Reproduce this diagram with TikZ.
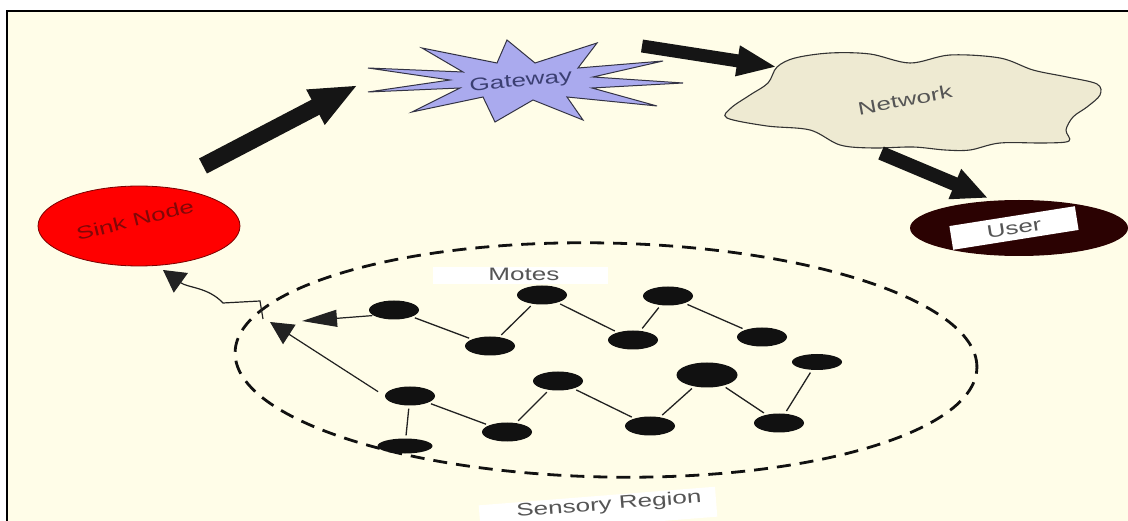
\documentclass[tikz,border=0pt]{standalone}
\usepackage{fontspec}
\setmainfont{Liberation Sans}
\usepackage{graphicx}
\usetikzlibrary{arrows.meta,shapes.geometric}

\definecolor{paper}{HTML}{FFFDE8}
\definecolor{sinkred}{HTML}{FF0000}
\definecolor{sinkedge}{HTML}{7A0000}
\definecolor{sinktext}{HTML}{800808}
\definecolor{starblue}{HTML}{AAAAEE}
\definecolor{stardark}{HTML}{333344}
\definecolor{gwtext}{HTML}{3B3F72}
\definecolor{cloudfill}{HTML}{EEEAD2}
\definecolor{clouddraw}{HTML}{333333}
\definecolor{userdark}{HTML}{2B0202}
\definecolor{labelgray}{HTML}{555555}
\definecolor{moteblack}{HTML}{111111}
\definecolor{linkgray}{HTML}{222222}
\definecolor{arrowblack}{HTML}{151515}

% wide sans lettering used for every label
\newcommand{\widetext}[1]{\scalebox{1.45}[1]{#1}}

\begin{document}
\begin{tikzpicture}[x=1pt,y=-1pt,
  lbl/.style={font=\fontsize{18}{20}\selectfont, text=labelgray, inner sep=0pt},
  mote/.style={ellipse, fill=moteblack, draw=none, minimum width=50pt,
               minimum height=19pt, inner sep=0pt},
  link/.style={draw=linkgray, line width=1.3pt, shorten <=3pt, shorten >=3pt},
  feed/.style={draw=linkgray, fill=linkgray, line width=1.2pt},
  blockarrow/.style={draw=arrowblack, fill=arrowblack},
]
\useasboundingbox (0,0) rectangle (1128,521);
\fill[white] (0,0) rectangle (1128,521);
\begin{scope}
  \clip (0,0) rectangle (1128,521);
  \draw[fill=paper, line width=2.5pt] (7,11) rectangle (1140,540);
\end{scope}

% ---- sink node ----
\node[ellipse, fill=sinkred, draw=sinkedge, line width=0.8pt,
      minimum width=202pt, minimum height=80pt, inner sep=0pt] (sink) at (139,226) {};
\node[lbl, text=sinktext, rotate=14] (sinklbl) at (135,220) {\widetext{Sink Node}};

% ---- gateway star ----
\draw[fill=starblue, draw=stardark, line width=1pt]
  (507,40) -- (535,63) -- (597,43) -- (578,68) -- (663,61) -- (593,77)
  -- (683,83) -- (592,88) -- (657,106) -- (567,97) -- (583,120) -- (533,100)
  -- (495,122) -- (483,97) -- (412,112) -- (460,88) -- (368,92) -- (450,80)
  -- (368,68) -- (463,72) -- (422,48) -- (497,63) -- cycle;
\node[lbl, text=gwtext, rotate=5.5] (gw) at (521,82) {\widetext{Gateway}};

% ---- network cloud ----
\draw[fill=cloudfill, draw=clouddraw, line width=1.1pt]
  plot[smooth cycle, tension=0.55] coordinates {
  (777,67) (795,58) (830,53) (870,54) (910,63) (950,55) (1000,58) (1033,70)
  (1067,77) (1097,84) (1100,95) (1087,107) (1073,117) (1066,130) (1069,141)
  (1045,143) (1000,143) (970,150) (945,150) (913,147) (873,148) (840,145)
  (810,130) (767,126) (727,118) (731,108) (750,95) (768,83)};
\node[lbl, rotate=10.5] (net) at (905,100) {\widetext{Network}};

% ---- user ----
\node[ellipse, fill=userdark, minimum width=218pt, minimum height=56pt,
      inner sep=0pt] (user) at (1019,228) {};
\node[lbl, fill=white, rotate=9, minimum width=127pt, minimum height=24pt]
  (userlbl) at (1014,228) {\widetext{User}};

% ---- block arrows between stages ----
\coordinate (a1s) at (203,166);  \coordinate (a1e) at (358,85);
\coordinate (a2s) at (642,46);   \coordinate (a2e) at (777,67);
\coordinate (a3s) at (881,153);  \coordinate (a3e) at (988,198);
\draw[blockarrow, line width=17pt, -{Triangle[width=36pt,length=48pt]}] (a1s) -- (a1e);
\draw[blockarrow, line width=13pt, -{Triangle[width=28pt,length=40pt]}] (a2s) -- (a2e);
\draw[blockarrow, line width=14pt, -{Triangle[width=30pt,length=36pt]}] (a3s) -- (a3e);

% ---- sensory region ----
\node[ellipse, draw=moteblack, line width=2.8pt, dash pattern=on 14pt off 9pt,
      minimum width=742pt, minimum height=234pt, inner sep=0pt, rotate=-1.2]
  (region) at (606,360) {};

\node[fill=white, minimum width=175pt, minimum height=17pt, inner sep=0pt]
  (motesbox) at (520,276) {};
\node[lbl] (moteslbl) at (524,274) {\widetext{Motes}};

\node[fill=white, rotate=4.5, minimum width=237pt, minimum height=30pt, inner sep=0pt]
  (sensbox) at (598,511) {};
\node[lbl, rotate=4.5] (senslbl) at (609,505) {\widetext{Sensory Region}};

% ---- motes ----
\node[mote] (m1)  at (394,310) {};
\node[mote] (m2)  at (490,346) {};
\node[mote] (m3)  at (542,295) {};
\node[mote] (m4)  at (410,396) {};
\node[mote, minimum width=55pt, minimum height=15pt] (m5) at (405,446) {};
\node[mote] (m6)  at (507,432) {};
\node[mote] (m7)  at (558,381) {};
\node[mote] (m8)  at (668,296) {};
\node[mote] (m9)  at (633,340) {};
\node[mote] (m10) at (762,337) {};
\node[mote, minimum width=61pt, minimum height=25pt] (m11) at (707,375) {};
\node[mote, minimum height=16pt] (m12) at (817,362) {};
\node[mote] (m13) at (650,426) {};
\node[mote] (m14) at (779,423) {};

\draw[link] (m1) -- (m2);
\draw[link] (m2) -- (m3);
\draw[link] (m3) -- (m9);
\draw[link] (m9) -- (m8);
\draw[link] (m8) -- (m10);
\draw[link] (m4) -- (m5);
\draw[link] (m4) -- (m6);
\draw[link] (m6) -- (m7);
\draw[link] (m7) -- (m13);
\draw[link] (m13) -- (m11);
\draw[link] (m11) -- (m14);
\draw[link] (m14) -- (m12);

% ---- data flowing out of the region to the sink ----
\coordinate (t1) at (302,321);
\coordinate (t2) at (270,322);
\coordinate (hub) at (263,319);
\coordinate (tz) at (163,270);
\draw[feed, shorten <=1pt, -{Triangle[width=17pt,length=35pt]}] (m1.195) -- (t1);
\draw[feed, shorten <=8pt, -{Triangle[width=23pt,length=23pt]}] (m4.west) -- (t2);
\draw[feed, fill=none, -{Triangle[width=24pt,length=22pt]}]
  (hub) -- (260,301) -- (223,303) .. controls (208,287) and (188,288) .. (tz);
\end{tikzpicture}
\end{document}
